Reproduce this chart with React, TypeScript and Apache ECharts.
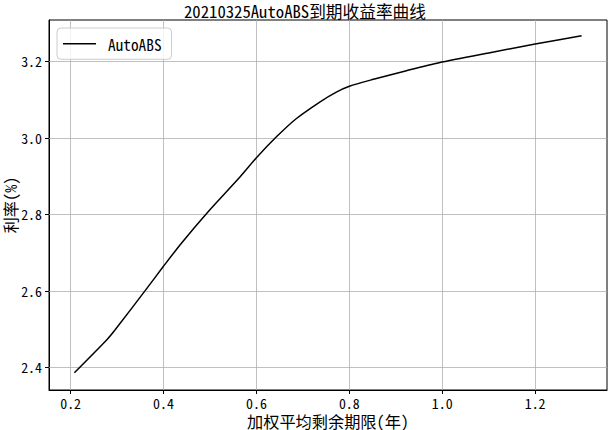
import React, { useEffect, useRef } from "react";
import * as echarts from "echarts";

const titleText = "20210325AutoABS到期收益率曲线";
const seriesName = "AutoABS";
const xName = "加权平均剩余期限(年)";
const yName = "利率(%)";

const termYears = [0.208, 0.277, 0.295, 0.36, 0.399, 0.438, 0.496, 0.564, 0.6, 0.6425, 0.6855, 0.7355, 0.771, 0.8, 0.852, 0.923, 0.993, 1.1, 1.2, 1.3];
const yieldPct = [2.386, 2.471, 2.497, 2.6, 2.663, 2.724, 2.807, 2.897, 2.948, 3.002, 3.05, 3.093, 3.119, 3.135, 3.153, 3.1755, 3.1964, 3.222, 3.245, 3.267];

const xTicks = [0.2, 0.4, 0.6, 0.8, 1.0, 1.2];
const yTicks = [2.4, 2.6, 2.8, 3.0, 3.2];

const FONT = "'Noto Sans Mono CJK SC', 'Noto Sans CJK SC', sans-serif";

export default function App() {
  const ref = useRef<HTMLDivElement>(null);
  useEffect(() => {
    if (!ref.current) return;
    const chart = echarts.init(ref.current, null, { renderer: "svg" });
    const gridColor = "#b0b0b0";
    chart.setOption({
      animation: false,
      backgroundColor: "#ffffff",
      title: {
        text: titleText,
        left: "center",
        top: 3,
        padding: 0,
        textStyle: { fontFamily: FONT, fontSize: 16.7, fontWeight: "normal", color: "#000" },
      },
      legend: {
        left: 57,
        top: 28,
        orient: "vertical",
        padding: [8, 10, 8, 6],
        itemWidth: 33,
        itemHeight: 14,
        borderColor: "#cccccc",
        borderWidth: 1,
        borderRadius: 4,
        backgroundColor: "rgba(255,255,255,0.8)",
        textStyle: { fontFamily: FONT, fontSize: 15.3, color: "#000", padding: [0, 0, 0, 7] },
        data: [{ name: seriesName, icon: "path://M0,0 L100,0 L100,4.5 L0,4.5 Z" }],
      },
      grid: {
        left: 49,
        right: 3,
        top: 20,
        bottom: 40,
        show: true,
        outerBoundsMode: "none",
        containLabel: false,
        borderColor: "#000",
        borderWidth: 1,
        backgroundColor: "transparent",
      },
      xAxis: {
        type: "value",
        min: 0.1534,
        max: 1.3547,
        name: xName,
        nameLocation: "middle",
        nameGap: 23,
        nameMoveOverlap: false,
        nameTextStyle: { fontFamily: FONT, fontSize: 16.2, lineHeight: 16, color: "#000" },
        axisLine: { show: true, lineStyle: { color: "#000", width: 1 } },
        axisTick: { show: true, length: 4, customValues: xTicks, lineStyle: { color: "#000" } },
        axisLabel: {
          customValues: xTicks,
          margin: 6,
          fontFamily: FONT,
          fontSize: 13.9,
          lineHeight: 13,
          color: "#000",
          formatter: (v: number) => v.toFixed(1),
        },
        splitLine: { show: false },
      },
      yAxis: {
        type: "value",
        min: 2.341,
        max: 3.308,
        name: yName,
        nameLocation: "middle",
        nameRotate: 90,
        nameGap: 31,
        nameMoveOverlap: false,
        nameTextStyle: { fontFamily: FONT, fontSize: 16.2, lineHeight: 16, color: "#000" },
        axisLine: { show: true, lineStyle: { color: "#000", width: 1 } },
        axisTick: { show: true, length: 4, customValues: yTicks, lineStyle: { color: "#000" } },
        axisLabel: {
          customValues: yTicks,
          margin: 7,
          fontFamily: FONT,
          fontSize: 13.9,
          color: "#000",
          formatter: (v: number) => v.toFixed(1),
        },
        splitLine: { show: false },
      },
      series: [
        {
          name: seriesName,
          type: "line",
          data: termYears.map((x, i) => [x, yieldPct[i]]),
          symbol: "none",
          smooth: 0.25,
          lineStyle: { color: "#000", width: 1.5 },
          itemStyle: { color: "#000" },
          z: 3,
          markLine: {
            silent: true,
            symbol: "none",
            label: { show: false },
            lineStyle: { color: gridColor, width: 0.8, type: "solid" },
            data: [
              ...xTicks.map((v) => ({ xAxis: v })),
              ...yTicks.map((v) => ({ yAxis: v })),
            ],
            z: 1,
          },
        },
      ],
    });
    return () => chart.dispose();
  }, []);
  return <div ref={ref} style={{ width: 610, height: 430, position: "absolute", left: 0, top: 0 }} />;
}
